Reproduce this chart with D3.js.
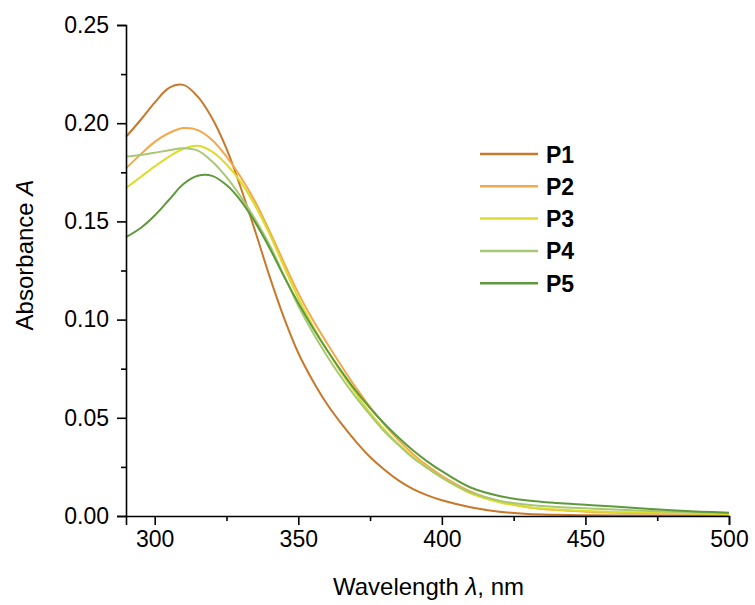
<!DOCTYPE html>
<html>
<head>
<meta charset="utf-8">
<script src="https://cdn.jsdelivr.net/npm/d3@7"></script>
<style>
  html, body { margin: 0; padding: 0; background: #fff; }
  svg { display: block; }
  text { font-family: "Liberation Sans", Arial, sans-serif; fill: #000; }
</style>
</head>
<body>
<svg id="chart" width="755" height="605"></svg>
<script>
// ---- Data ----
const wavelengths = [290,295,300,305,310,315,320,325,330,335,340,345,350,355,360,365,370,375,380,385,390,395,400,410,420,430,440,450,460,470,480,490,500];
const seriesNames = ["P1", "P2", "P3", "P4", "P5"];
const P1 = [0.193,0.2015,0.2105,0.218,0.2195,0.2135,0.2025,0.187,0.167,0.145,0.122,0.101,0.083,0.069,0.057,0.047,0.038,0.030,0.0235,0.018,0.0137,0.0105,0.008,0.0045,0.0022,0.001,0.0006,0.0004,0.0003,0.0002,0.0002,0.0002,0.0001];
const P2 = [0.177,0.184,0.1905,0.195,0.1975,0.1965,0.1915,0.183,0.1725,0.160,0.145,0.129,0.1135,0.100,0.088,0.0765,0.0655,0.0555,0.0465,0.0385,0.0315,0.0255,0.0205,0.0125,0.0075,0.0045,0.003,0.0022,0.0017,0.0014,0.0012,0.001,0.0008];
const P3 = [0.167,0.1725,0.178,0.183,0.187,0.1885,0.1855,0.179,0.170,0.158,0.1435,0.127,0.111,0.097,0.0845,0.073,0.0625,0.0525,0.044,0.0365,0.030,0.0245,0.0195,0.0115,0.007,0.0045,0.0033,0.0026,0.0021,0.0018,0.0015,0.0012,0.001];
const P4 = [0.183,0.1838,0.185,0.1862,0.1872,0.186,0.1805,0.1725,0.1625,0.151,0.138,0.1225,0.107,0.0935,0.0815,0.0705,0.0605,0.0515,0.043,0.036,0.0295,0.0243,0.0195,0.012,0.0078,0.0057,0.0046,0.0039,0.0033,0.0027,0.0022,0.0018,0.0015];
const P5 = [0.142,0.1465,0.153,0.161,0.169,0.1732,0.1732,0.1685,0.1605,0.1495,0.1365,0.122,0.1085,0.096,0.0845,0.0738,0.0638,0.055,0.047,0.0398,0.0333,0.0277,0.0228,0.0145,0.0102,0.0079,0.0066,0.0057,0.0048,0.0038,0.0029,0.0022,0.0017];
const seriesValues = [P1, P2, P3, P4, P5];
const seriesColors = ["#c8782a", "#f4a84a", "#dcdc2a", "#a9c873", "#5e9a3c"];
const xTicks = [300, 350, 400, 450, 500];
const xMinorTicks = [325, 375, 425, 475];
const yTicks = [0.00, 0.05, 0.10, 0.15, 0.20, 0.25];
const yMinorTicks = [0.025, 0.075, 0.125, 0.175, 0.225];

// ---- Layout ----
const svg = d3.select("#chart");
const mLeft = 126, mRight = 729, mTop = 25, mBottom = 516;

const x = d3.scaleLinear().domain([290, 500]).range([mLeft, mRight]);
const y = d3.scaleLinear().domain([0, 0.25]).range([mBottom, mTop]);

// curves
const line = d3.line()
  .x(d => x(d[0]))
  .y(d => y(d[1]))
  .curve(d3.curveCatmullRom.alpha(0.5));

seriesValues.forEach((vals, i) => {
  const pts = wavelengths.map((w, j) => [w, vals[j]]);
  svg.append("path")
    .datum(pts)
    .attr("fill", "none")
    .attr("stroke", seriesColors[i])
    .attr("stroke-width", 2)
    .attr("d", line);
});

// axes
const xAxis = svg.append("g").attr("transform", `translate(0,${mBottom})`)
  .call(d3.axisBottom(x).tickValues(xTicks).tickSize(9).tickPadding(6).tickFormat(d3.format("d")));
const xMinor = svg.append("g").attr("transform", `translate(0,${mBottom})`)
  .call(d3.axisBottom(x).tickValues(xMinorTicks).tickSize(5).tickFormat(""));
const yAxis = svg.append("g").attr("transform", `translate(${mLeft},0)`)
  .call(d3.axisLeft(y).tickValues(yTicks).tickSize(9).tickPadding(8).tickFormat(d3.format(".2f")));
const yMinor = svg.append("g").attr("transform", `translate(${mLeft},0)`)
  .call(d3.axisLeft(y).tickValues(yMinorTicks).tickSize(5).tickFormat(""));

[xAxis, xMinor, yAxis, yMinor].forEach(g => {
  g.selectAll(".domain").attr("stroke", "#000").attr("stroke-width", 1.6);
  g.selectAll(".tick line").attr("stroke", "#000").attr("stroke-width", 1.6);
  g.selectAll("text").attr("font-size", 23).attr("font-family", "'Liberation Sans', Arial, sans-serif").attr("fill", "#000");
});
xMinor.select(".domain").remove();
yMinor.select(".domain").remove();

// axis titles
const xt = svg.append("text")
  .attr("x", (mLeft + mRight) / 2 + 1)
  .attr("y", 595)
  .attr("text-anchor", "middle")
  .attr("font-size", 24);
xt.append("tspan").text("Wavelength ");
xt.append("tspan").attr("font-style", "italic").text("λ");
xt.append("tspan").text(", nm");

const yt = svg.append("text")
  .attr("transform", `translate(33,255) rotate(-90)`)
  .attr("text-anchor", "middle")
  .attr("font-size", 24);
yt.append("tspan").text("Absorbance ");
yt.append("tspan").attr("font-style", "italic").text("A");

// legend
const legend = svg.append("g");
seriesNames.forEach((name, i) => {
  const cy = 154 + i * 32.3;
  legend.append("line")
    .attr("x1", 480).attr("x2", 538)
    .attr("y1", cy).attr("y2", cy)
    .attr("stroke", seriesColors[i])
    .attr("stroke-width", 2.5);
  legend.append("text")
    .attr("x", 546).attr("y", cy + 8.5)
    .attr("font-size", 23)
    .attr("font-weight", "bold")
    .text(name);
});
</script>
</body>
</html>
